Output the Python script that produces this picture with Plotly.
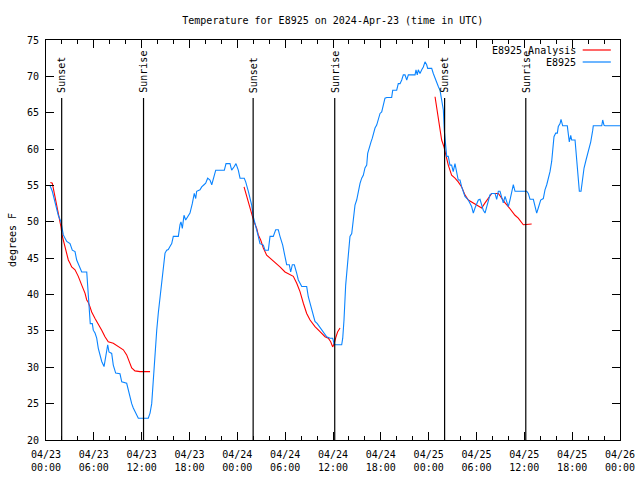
import pandas as pd
import plotly.graph_objects as go

START = pd.Timestamp("2024-04-23 00:00")

# Observed temperature E8925 (hours since start, degrees F)
obs_hours = [0.09, 0.5, 0.79, 1.13, 1.54, 1.88, 2.17, 2.6, 3.01, 3.3, 3.64, 3.85, 4.14, 4.48, 5.11, 5.23,
             5.31, 5.39, 5.52, 5.55, 5.81, 5.93, 6.15, 6.36, 6.56, 6.77, 6.99, 7.28, 7.49, 7.74, 7.9, 8.24,
             8.44, 8.74, 9.28, 9.5, 10.12, 10.32, 10.54, 10.75, 10.95, 11.16, 11.5, 11.58, 12.83, 13.05,
             13.26, 13.46, 13.67, 13.89, 14.09, 14.3, 14.51, 14.71, 14.93, 15.14, 15.34, 15.55, 15.77,
             15.97, 16.6, 16.81, 16.93, 17.1, 17.31, 17.52, 17.85, 18.06, 18.35, 18.6, 18.78, 18.9, 19.32,
             19.53, 19.82, 20.03, 20.28, 20.57, 20.79, 20.99, 21.29, 22.37, 22.58, 23.08, 23.29, 23.62,
             23.83, 24.12, 24.34, 24.87, 25.05, 25.38, 25.59, 25.8, 26.0, 26.13, 26.34, 26.63, 26.84,
             27.26, 27.47, 27.89, 28.1, 28.51, 28.81, 29.14, 29.35, 29.69, 29.98, 30.19, 30.52, 30.69,
             30.9, 31.15, 31.45, 31.65, 32.08, 32.7, 32.9, 33.12, 33.33, 33.53, 33.74, 34.03, 34.28,
             34.58, 35.21, 35.62, 35.96, 36.16, 37.09, 37.22, 37.38, 37.59, 37.79, 37.92, 38.13, 38.35,
             38.55, 38.76, 38.97, 39.18, 39.39, 39.6, 39.8, 40.01, 40.23, 40.35, 40.55, 40.77, 40.93,
             41.06, 41.27, 41.48, 41.68, 41.9, 42.11, 42.31, 42.52, 42.74, 43.36, 43.49, 43.99, 44.19,
             44.41, 44.62, 44.82, 45.03, 45.25, 45.45, 46.29, 46.41, 46.57, 46.7, 46.91, 47.13, 47.33,
             47.54, 47.75, 47.88, 48.38, 48.58, 48.8, 49.01, 49.21, 49.42, 49.63, 49.84, 49.96, 50.09,
             50.26, 50.46, 50.67, 50.88, 51.08, 51.3, 51.51, 51.71, 51.93, 52.14, 52.55, 52.97, 53.39,
             53.6, 53.81, 54.02, 54.23, 54.44, 54.65, 54.85, 55.07, 55.28, 55.48, 55.69, 55.91, 56.32,
             56.53, 56.74, 56.95, 57.16, 57.36, 57.58, 57.79, 57.99, 58.2, 58.42, 58.62, 58.83, 60.3,
             60.5, 60.71, 61.13, 61.34, 61.55, 61.75, 62.05, 62.38, 62.59, 62.81, 63.01, 63.22, 63.43,
             63.56, 63.72, 63.94, 64.14, 64.26, 64.48, 64.6, 64.81, 65.39, 65.52, 65.64, 65.82, 65.94,
             66.36, 66.48, 66.65, 66.77, 66.9, 67.11, 67.27, 67.49, 67.74, 68.03, 68.33, 68.58, 68.65,
             69.71, 69.83, 69.99, 70.12, 72.0]
obs_temp = [55, 55, 54.2, 52.8, 50.9, 50.0, 48.2, 47.3, 47.0, 46.1, 45.9, 44.75, 44.1, 43.1, 43.1, 41.1,
            40.6, 39.0, 37.0, 36.0, 36.0, 35.1, 34.7, 34.0, 32.6, 31.5, 30.8, 30.1, 31.7, 33.1, 32.1, 31.9,
            30.3, 29.2, 29.1, 28.0, 27.8, 26.9, 25.7, 25.0, 24.4, 23.9, 23.2, 23.0, 23.0, 23.7,
            25.0, 28.5, 32.0, 35.1, 37.5, 39.5, 41.6, 44.1, 45.7, 46.1, 46.2, 46.6, 47.0,
            48.0, 48.0, 49.6, 50.0, 49.1, 50.9, 50.25, 50.9, 51.2, 52.5, 53.9, 53.2, 54.2, 54.4,
            54.8, 55.1, 55.3, 56.0, 55.75, 55.1, 56.0, 57.1, 57.1, 58.0, 58.0, 57.1, 57.6,
            58.0, 57.1, 56.0, 56.0, 55.5, 54.2, 53.2, 52.3, 50.7, 50.2, 49.3, 48.0, 47.0,
            46.8, 46.1, 46.1, 48.0, 48.0, 48.9, 48.9, 48.0, 46.8, 45.2, 44.1, 44.1, 43.1,
            44.1, 44.1, 42.9, 42.0, 41.1, 41.1, 39.7, 38.8, 37.9, 37.0, 36.3, 36.0, 35.6,
            35.1, 34.2, 34.0, 34.0, 33.1, 33.1, 34.0, 36.5, 41.3, 44.3, 46.1, 48.0, 48.4,
            50.7, 52.3, 53.0, 54.2, 55.3, 56.0, 56.4, 57.4, 57.8, 59.4, 60.3, 61.0, 61.5,
            62.2, 62.9, 63.3, 64.0, 64.9, 65.1, 66.1, 67.0, 67.1, 67.1, 68.1, 68.1, 69.0,
            69.0, 69.5, 70.2, 70.2, 69.5, 70.2, 70.2, 70.9, 70.2, 70.9, 70.4, 70.9, 71.3,
            72.0, 71.6, 71.1, 71.1, 70.4, 69.7, 69.3, 68.6, 68.1, 67.0, 65.4, 62.6, 60.8,
            59.0, 59.0, 57.8, 57.8, 56.9, 58.0, 56.9, 55.75, 55.75, 54.8, 53.5, 53.0, 52.1,
            51.2, 51.9, 52.6, 53.0, 53.1, 52.3, 51.6, 51.2, 52.1, 53.2, 53.7, 53.9, 53.9,
            53.1, 54.2, 54.2, 53.5, 52.6, 53.5, 52.6, 52.1, 53.0, 53.9, 55.1, 54.2, 54.2,
            53.9, 53.1, 53.1, 52.1, 51.2, 51.9, 53.0, 53.2, 54.4, 55.1, 56.0, 56.9, 58.3,
            60.1, 61.7, 62.2, 62.2, 63.1, 63.5, 64.1, 63.2, 63.2, 62.2, 61.0, 61.9, 61.25,
            61.25, 59.6, 57.4, 55.5, 54.2, 54.2, 55.5, 57.4, 58.5, 59.6, 61.0, 62.6, 63.2,
            63.2, 64.0, 63.3, 63.2, 63.2]

# Analysis (three 12-hour segments; None = gap)
ana_hours = [0.55, 0.79, 0.92, 1.13, 1.34, 1.54, 1.76, 1.88, 2.01, 2.17, 2.38, 2.6, 2.8, 3.01, 3.22, 3.64, 4.05,
             4.48, 4.89, 5.11, 5.27, 5.52, 5.73, 6.15, 6.56, 6.99, 7.4, 7.81, 8.44, 9.07, 9.7, 10.12,
             10.41, 10.75, 11.16, 11.79, 12.83, 13.05, 13.06,
             24.84, 25.18, 25.5, 25.8, 26.09, 26.43, 26.63, 26.93, 27.26, 27.68, 28.1, 28.73, 29.35,
             29.98, 30.61, 31.02, 31.45, 31.86, 32.28, 32.7, 33.12, 33.74, 34.37, 35.0, 35.41, 35.71,
             35.96, 36.16, 36.38, 36.59, 36.88, 36.89,
             48.8, 49.01, 49.21, 49.42, 49.63, 49.92, 50.14, 50.26, 50.46, 50.67, 50.88, 51.3, 51.71,
             52.14, 52.55, 52.97, 53.6, 54.23, 54.65, 55.07, 55.48, 55.91, 56.74, 57.16, 57.58, 57.99,
             58.42, 58.83, 59.24, 59.67, 59.87, 60.92]
ana_temp = [55.4, 55.3, 54.6, 53.5, 52.3, 51.2, 50.0, 49.3, 48.2, 47.5, 46.6, 45.7, 44.75, 44.3, 43.8, 43.4, 42.5,
            41.3, 40.2, 39.25, 39.0, 38.3, 37.6, 36.7, 36.0, 35.1, 34.2, 33.5, 33.3, 32.9, 32.4, 31.7,
            30.8, 29.9, 29.5, 29.4, 29.4, 29.4, None,
            54.8, 53.5, 52.3, 50.9, 50.0, 49.1, 48.2, 47.5, 46.4, 45.4, 45.0, 44.5, 43.8,
            43.1, 42.8, 42.5, 41.55, 40.4, 38.8, 37.4, 36.5, 35.6, 34.9, 34.2, 34.0, 33.5,
            32.8, 33.3, 34.2, 34.9, 35.4, None,
            67.2, 65.8, 64.0, 62.6, 61.25, 60.3, 59.2, 58.5, 57.8, 57.1, 56.4, 56.0, 55.5,
            54.8, 53.7, 53.0, 52.6, 52.1, 51.9, 52.6, 53.2, 53.9, 53.9, 53.2, 52.6, 52.1,
            51.4, 50.9, 50.5, 49.8, 49.6, 49.7]

event_times = ["2024-04-23 01:58", "2024-04-23 12:14", "2024-04-24 01:59",
               "2024-04-24 12:13", "2024-04-25 02:00", "2024-04-25 12:11"]
event_labels = ["Sunset", "Sunrise", "Sunset", "Sunrise", "Sunset", "Sunrise"]

FONT = "DejaVu Sans Mono"
BLUE = "#0a84ff"
RED = "#ff0000"

def to_time(hours):
    return [START + pd.Timedelta(hours=h) for h in hours]

fig = go.Figure()
fig.add_trace(go.Scatter(x=to_time(ana_hours), y=ana_temp, mode="lines",
                         line=dict(color=RED, width=1.1), name="E8925 Analysis",
                         connectgaps=False, showlegend=False))
fig.add_trace(go.Scatter(x=to_time(obs_hours), y=obs_temp, mode="lines",
                         line=dict(color=BLUE, width=1.1), name="E8925", showlegend=False))

for t, lab in zip(event_times, event_labels):
    fig.add_shape(type="line", xref="x", yref="paper", x0=t, x1=t, y0=0, y1=0.855,
                  line=dict(color="black", width=1.2))
    fig.add_annotation(x=t, xref="x", y=0.862, yref="paper", text=lab, textangle=-90,
                       showarrow=False, xanchor="center", yanchor="bottom",
                       font=dict(family=FONT, size=10, color="black"))

# gnuplot-style legend (text right, sample line at right)
legend_items = [("E8925 Analysis", RED, 0.975), ("E8925", BLUE, 0.945)]
for name, col, yy in legend_items:
    fig.add_annotation(x=0.926, xref="paper", y=yy, yref="paper", text=name, showarrow=False,
                       xanchor="right", yanchor="middle",
                       font=dict(family=FONT, size=10, color="black"))
    fig.add_shape(type="line", xref="paper", yref="paper", x0=0.935, x1=0.984, y0=yy, y1=yy,
                  line=dict(color=col, width=1.2))

fig.update_layout(
    width=640, height=480,
    margin=dict(l=46, r=20, t=40, b=40, autoexpand=False),
    paper_bgcolor="white", plot_bgcolor="white",
    font=dict(family=FONT, size=10, color="black"),
    title=dict(text="Temperature for E8925 on 2024-Apr-23 (time in UTC)", x=0.52, xanchor="center",
               y=0.958, yanchor="middle", font=dict(family=FONT, size=10, color="black")),
    showlegend=False,
    hovermode=False,
)
fig.update_xaxes(
    type="date", range=["2024-04-23 00:00", "2024-04-26 00:00"], automargin=False,
    tick0="2024-04-23 00:00", dtick=6 * 3600 * 1000, tickformat="%m/%d<br>%H:%M",
    ticks="inside", ticklen=8, tickcolor="black", showline=True, linecolor="black",
    linewidth=1, mirror="ticks", showgrid=False, zeroline=False, ticklabelstandoff=5,
    minor=dict(dtick=2 * 3600 * 1000, ticks="inside", ticklen=4, tickcolor="black", showgrid=False),
    tickfont=dict(family=FONT, size=10, color="black"),
)
fig.update_yaxes(
    range=[20, 75], dtick=5, tick0=20, ticks="inside", ticklen=8, tickcolor="black", automargin=False,
    showline=True, linecolor="black", linewidth=1, mirror="ticks", showgrid=False,
    zeroline=False, ticklabelstandoff=4, title=dict(text="degrees F", standoff=8,
                               font=dict(family=FONT, size=10, color="black")),
    tickfont=dict(family=FONT, size=10, color="black"),
)

fig.write_html("out.html", config={"displayModeBar": False, "staticPlot": True},
               post_script="document.body.style.margin='0';")
